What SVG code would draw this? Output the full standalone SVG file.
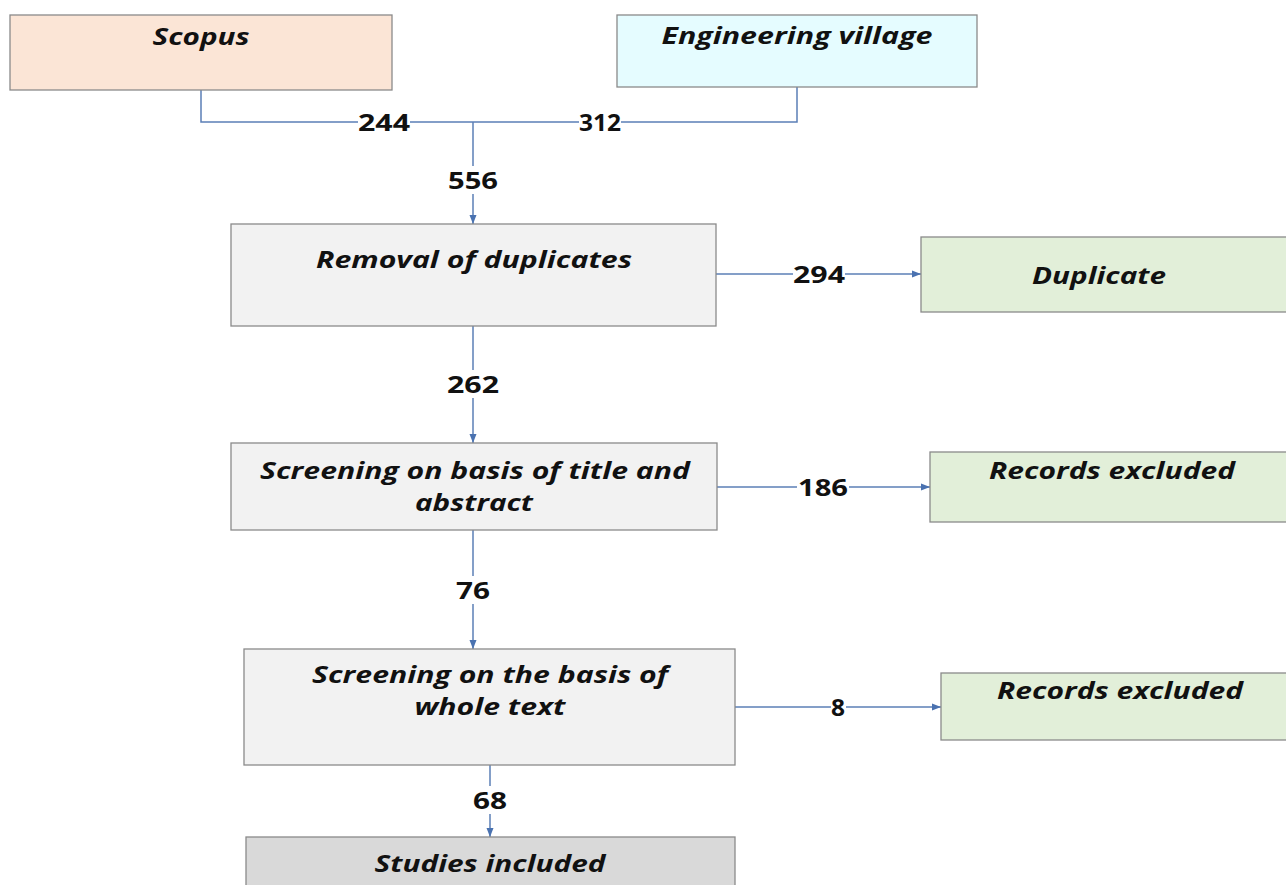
<svg xmlns="http://www.w3.org/2000/svg" width="1286" height="885" viewBox="0 0 1286 885">
<defs>
<marker id="ah" markerWidth="9" markerHeight="8" refX="9" refY="4" orient="auto" markerUnits="userSpaceOnUse">
<path d="M0,0.5 L9,4 L0,7.5 Z" fill="#4a72b0"/>
</marker>
<style>
.box{stroke:#8a8a8a;stroke-width:1.3}
.t{font-family:"Open Sans",sans-serif;font-weight:bold;font-style:italic;font-size:24px;fill:#111;text-anchor:middle}
.n{font-family:"Open Sans",sans-serif;font-weight:bold;font-size:24px;fill:#111;text-anchor:middle}
.c{fill:none;stroke:#5b7fb6;stroke-width:1.5}
.lb{fill:#fff}
</style>
</defs>
<rect width="1286" height="885" fill="#fff"/>
<g id="connectors">
<path class="c" d="M201,90 V122 H797 V87"/>
<path class="c" d="M473,122 V224" marker-end="url(#ah)"/>
<path class="c" d="M716,274 H921" marker-end="url(#ah)"/>
<path class="c" d="M473,326 V443" marker-end="url(#ah)"/>
<path class="c" d="M717,487 H930" marker-end="url(#ah)"/>
<path class="c" d="M473,530 V649" marker-end="url(#ah)"/>
<path class="c" d="M735,707 H941" marker-end="url(#ah)"/>
<path class="c" d="M490,765 V837" marker-end="url(#ah)"/>
<rect class="lb" x="358" y="110" width="52" height="24"/>
<text class="n" x="384" y="131" textLength="52" lengthAdjust="spacingAndGlyphs">244</text>
<rect class="lb" x="579" y="110" width="42" height="24"/>
<text class="n" x="600" y="131" textLength="42" lengthAdjust="spacingAndGlyphs">312</text>
<rect class="lb" x="446" y="166" width="54" height="28"/>
<text class="n" x="473" y="189" textLength="50" lengthAdjust="spacingAndGlyphs">556</text>
<rect class="lb" x="793" y="262" width="52" height="24"/>
<text class="n" x="819" y="283" textLength="52" lengthAdjust="spacingAndGlyphs">294</text>
<rect class="lb" x="446" y="370" width="54" height="28"/>
<text class="n" x="473" y="393" textLength="52" lengthAdjust="spacingAndGlyphs">262</text>
<rect class="lb" x="797" y="475" width="52" height="24"/>
<text class="n" x="823" y="496" textLength="50" lengthAdjust="spacingAndGlyphs">186</text>
<rect class="lb" x="455" y="576" width="36" height="28"/>
<text class="n" x="473" y="599" textLength="34" lengthAdjust="spacingAndGlyphs">76</text>
<rect class="lb" x="831" y="695" width="15" height="24"/>
<text class="n" x="838" y="716" textLength="14" lengthAdjust="spacingAndGlyphs">8</text>
<rect class="lb" x="472" y="786" width="36" height="28"/>
<text class="n" x="490" y="809" textLength="34" lengthAdjust="spacingAndGlyphs">68</text>
</g>
<g id="scopus">
<rect class="box" x="10" y="15" width="382" height="75" fill="#fbe5d6"/>
<text class="t" x="201" y="45" textLength="97" lengthAdjust="spacingAndGlyphs">Scopus</text>
</g>
<g id="engineering-village">
<rect class="box" x="617" y="15" width="360" height="72" fill="#e5fcff"/>
<text class="t" x="797" y="44" textLength="271" lengthAdjust="spacingAndGlyphs">Engineering village</text>
</g>
<g id="removal">
<rect class="box" x="231" y="224" width="485" height="102" fill="#f2f2f2"/>
<text class="t" x="474" y="268" textLength="316" lengthAdjust="spacingAndGlyphs">Removal of duplicates</text>
</g>
<g id="duplicate">
<rect class="box" x="921" y="237" width="370" height="75" fill="#e2efd9"/>
<text class="t" x="1099" y="284" textLength="134" lengthAdjust="spacingAndGlyphs">Duplicate</text>
</g>
<g id="screening-title">
<rect class="box" x="231" y="443" width="486" height="87" fill="#f2f2f2"/>
<text class="t" x="475" y="479" textLength="430" lengthAdjust="spacingAndGlyphs">Screening on basis of title and</text>
<text class="t" x="474" y="511" textLength="118" lengthAdjust="spacingAndGlyphs">abstract</text>
</g>
<g id="excluded-1">
<rect class="box" x="930" y="452" width="361" height="70" fill="#e2efd9"/>
<text class="t" x="1112" y="479" textLength="246" lengthAdjust="spacingAndGlyphs">Records excluded</text>
</g>
<g id="screening-text">
<rect class="box" x="244" y="649" width="491" height="116" fill="#f2f2f2"/>
<text class="t" x="490" y="683" textLength="356" lengthAdjust="spacingAndGlyphs">Screening on the basis of</text>
<text class="t" x="490" y="715" textLength="151" lengthAdjust="spacingAndGlyphs">whole text</text>
</g>
<g id="excluded-2">
<rect class="box" x="941" y="673" width="350" height="67" fill="#e2efd9"/>
<text class="t" x="1120" y="699" textLength="246" lengthAdjust="spacingAndGlyphs">Records excluded</text>
</g>
<g id="studies-included">
<rect class="box" x="246" y="837" width="489" height="60" fill="#d9d9d9"/>
<text class="t" x="490" y="872" textLength="231" lengthAdjust="spacingAndGlyphs">Studies included</text>
</g>
</svg>
